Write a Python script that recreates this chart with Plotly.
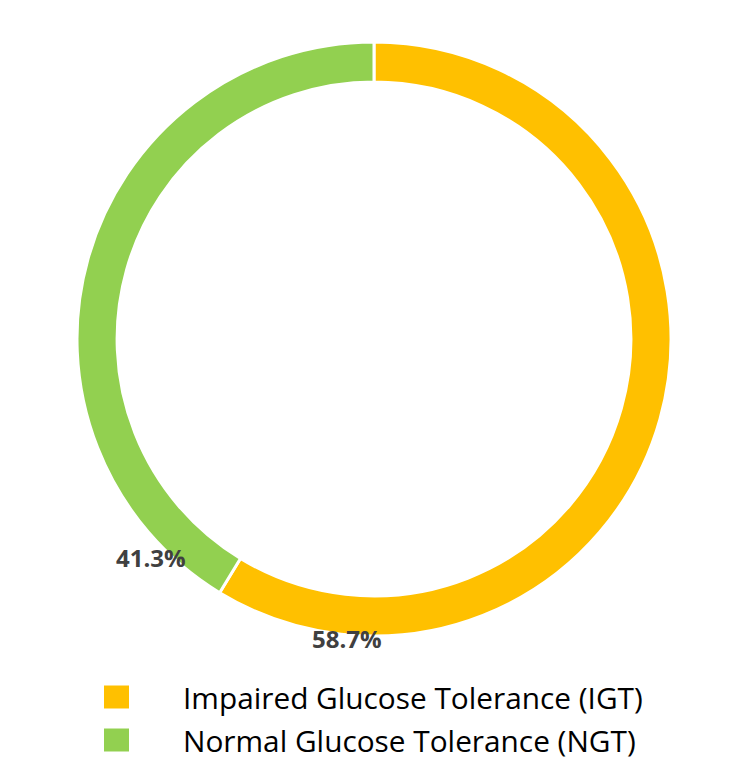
import plotly.graph_objects as go

categories = ["Impaired Glucose Tolerance (IGT)", "Normal Glucose Tolerance (NGT)"]
values = [58.7, 41.3]
colors = ["#FFC000", "#92D050"]

W, H = 750, 774
cx, cy, R = 374, 339, 297  # pixel geometry of donut

fig = go.Figure(go.Pie(
    labels=categories,
    values=values,
    marker=dict(colors=colors, line=dict(color="white", width=3)),
    hole=0.865,
    sort=False,
    direction="clockwise",
    rotation=0,
    textinfo="none",
    hoverinfo="label+percent",
    showlegend=False,
    domain=dict(x=[(cx - R) / W, (cx + R) / W], y=[(H - cy - R) / H, (H - cy + R) / H]),
))

total = sum(values)
label_pos = [(347, 638), (151, 557)]  # data label anchor positions (px)
annotations = []
for v, (lx, ly) in zip(values, label_pos):
    annotations.append(dict(
        x=lx / W, y=1 - ly / H, xref="paper", yref="paper",
        text=f"<b>{v / total * 100:.1f}%</b>", showarrow=False,
        font=dict(family="Open Sans", size=24, color="#404040"),
        xanchor="center", yanchor="middle",
    ))

shapes = []
legend_y = [697, 740]
for name, col, ly in zip(categories, colors, legend_y):
    shapes.append(dict(type="rect", xref="paper", yref="paper",
                       x0=104 / W, x1=129 / W, y0=1 - (ly - 11.5) / H, y1=1 - (ly + 11.5) / H,
                       fillcolor=col, line=dict(width=0)))
    annotations.append(dict(
        x=181 / W, y=1 - ly / H, xref="paper", yref="paper",
        text=name, showarrow=False, xanchor="left", yanchor="middle",
        font=dict(family="Open Sans", size=29.8, color="#000000"),
    ))

fig.update_layout(
    width=W, height=H,
    margin=dict(l=0, r=0, t=0, b=0),
    paper_bgcolor="white", plot_bgcolor="white",
    annotations=annotations, shapes=shapes,
)

fig.write_html("out.html")
